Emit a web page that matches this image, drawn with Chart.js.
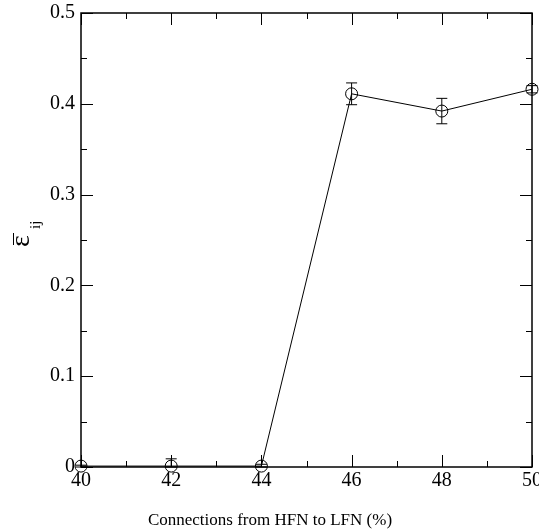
<!DOCTYPE html>
<html>
<head>
<meta charset="utf-8">
<script src="https://cdn.jsdelivr.net/npm/chart.js@4.4.1/dist/chart.umd.min.js"></script>
<style>
  body { margin: 0; background: #fff; }
  #wrap { width: 539px; height: 531px; }
</style>
</head>
<body>
<div id="wrap"><canvas id="epsChart" width="539" height="531"></canvas></div>
<script>
// Werte
const connections = [40, 42, 44, 46, 48, 50];
const epsMean = [0.001, 0.001, 0.001, 0.411, 0.392, 0.416];
const epsErr = [0.001, 0.008, 0.002, 0.012, 0.014, 0.004];
const xTicks = [40, 42, 44, 46, 48, 50];
const yTicks = [0, 0.1, 0.2, 0.3, 0.4, 0.5];
const xTitle = 'Connections from HFN to LFN (%)';

const serif = '"Liberation Serif", "Times New Roman", serif';

// Fehlerbalken ueber die Skalen zeichnen
const errorBars = {
    id: 'errorBars',
    afterDatasetsDraw(chart) {
        const ctx = chart.ctx;
        const xs = chart.scales.x, ys = chart.scales.y;
        ctx.save();
        ctx.strokeStyle = '#000';
        ctx.lineWidth = 1;
        connections.forEach(function(c, i) {
            const px = xs.getPixelForValue(c);
            const top = ys.getPixelForValue(epsMean[i] + epsErr[i]);
            const bot = ys.getPixelForValue(Math.max(0, epsMean[i] - epsErr[i]));
            ctx.beginPath();
            ctx.moveTo(px, top); ctx.lineTo(px, bot);
            ctx.moveTo(px - 5.5, top); ctx.lineTo(px + 5.5, top);
            ctx.moveTo(px - 5.5, bot); ctx.lineTo(px + 5.5, bot);
            ctx.stroke();
        });
        ctx.restore();
    }
};

// Rahmen mit Teilstrichen nach innen, plus Achsentitel
const frameTicks = {
    id: 'frameTicks',
    afterDraw(chart) {
        const ctx = chart.ctx;
        const a = chart.chartArea;
        const xs = chart.scales.x, ys = chart.scales.y;
        ctx.save();
        ctx.strokeStyle = '#000';
        ctx.lineWidth = 1.5;
        ctx.strokeRect(a.left, a.top, a.right - a.left, a.bottom - a.top);
        ctx.lineWidth = 1;
        ctx.beginPath();
        for (let v = 40; v <= 50; v += 1) {
            const px = Math.round(xs.getPixelForValue(v)) + 0.5;
            const len = (v % 2 === 0) ? 12 : 6;
            ctx.moveTo(px, a.bottom); ctx.lineTo(px, a.bottom - len);
            ctx.moveTo(px, a.top); ctx.lineTo(px, a.top + len);
        }
        for (let k = 0; k <= 10; k++) {
            const py = Math.round(ys.getPixelForValue(k * 0.05)) + 0.5;
            const len = (k % 2 === 0) ? 12 : 6;
            ctx.moveTo(a.left, py); ctx.lineTo(a.left + len, py);
            ctx.moveTo(a.right, py); ctx.lineTo(a.right - len, py);
        }
        ctx.stroke();

        // x-Titel (im Original etwas links der Mitte)
        ctx.fillStyle = '#000';
        ctx.font = '17px ' + serif;
        ctx.textAlign = 'center';
        ctx.textBaseline = 'alphabetic';
        ctx.fillText(xTitle, 270, 525);

        // y-Titel: epsilon mit Querstrich, Index ij
        ctx.textAlign = 'left';
        ctx.translate(29, 247);
        ctx.rotate(-Math.PI / 2);
        ctx.font = '28px ' + serif;
        ctx.fillText('ε', 0, 0);
        ctx.beginPath();
        ctx.moveTo(2, -15.5); ctx.lineTo(14, -15.5);
        ctx.stroke();
        ctx.font = '15px ' + serif;
        ctx.fillText('ij', 18, 11);
        ctx.restore();
    }
};

const chart = new Chart(document.getElementById('epsChart').getContext('2d'), {
    type: 'line',
    data: {
        datasets: [{
            data: connections.map(function(c, i) { return { x: c, y: epsMean[i] }; }),
            borderColor: '#000',
            borderWidth: 1,
            tension: 0,
            fill: false,
            pointStyle: 'circle',
            pointRadius: 6,
            pointBorderWidth: 1,
            pointBorderColor: '#000',
            pointBackgroundColor: 'rgba(0,0,0,0)',
            clip: false
        }]
    },
    options: {
        responsive: false,
        animation: false,
        layout: { padding: { left: 0, top: 13, right: 7, bottom: 0 } },
        plugins: {
            legend: { display: false },
            tooltip: { enabled: false }
        },
        scales: {
            x: {
                type: 'linear',
                min: 40,
                max: 50,
                afterBuildTicks: function(scale) {
                    scale.ticks = xTicks.map(function(v) { return { value: v }; });
                },
                afterFit: function(scale) {
                    scale.height = 64;
                    scale.paddingLeft = 0;
                    scale.paddingRight = 0;
                },
                ticks: {
                    padding: 2,
                    color: '#000',
                    font: { family: serif, size: 20 },
                    maxRotation: 0,
                    callback: function(v) { return String(v); }
                },
                grid: { display: false, drawTicks: false },
                border: { display: false }
            },
            y: {
                type: 'linear',
                min: 0,
                max: 0.5,
                afterBuildTicks: function(scale) {
                    scale.ticks = yTicks.map(function(v) { return { value: v }; });
                },
                afterFit: function(scale) {
                    scale.width = 81;
                    scale.paddingTop = 0;
                    scale.paddingBottom = 0;
                },
                ticks: {
                    padding: 6,
                    color: '#000',
                    font: { family: serif, size: 20 },
                    callback: function(v) { return v === 0 ? '0' : v.toFixed(1); }
                },
                grid: { display: false, drawTicks: false },
                border: { display: false }
            }
        }
    },
    plugins: [errorBars, frameTicks]
});
</script>
</body>
</html>
